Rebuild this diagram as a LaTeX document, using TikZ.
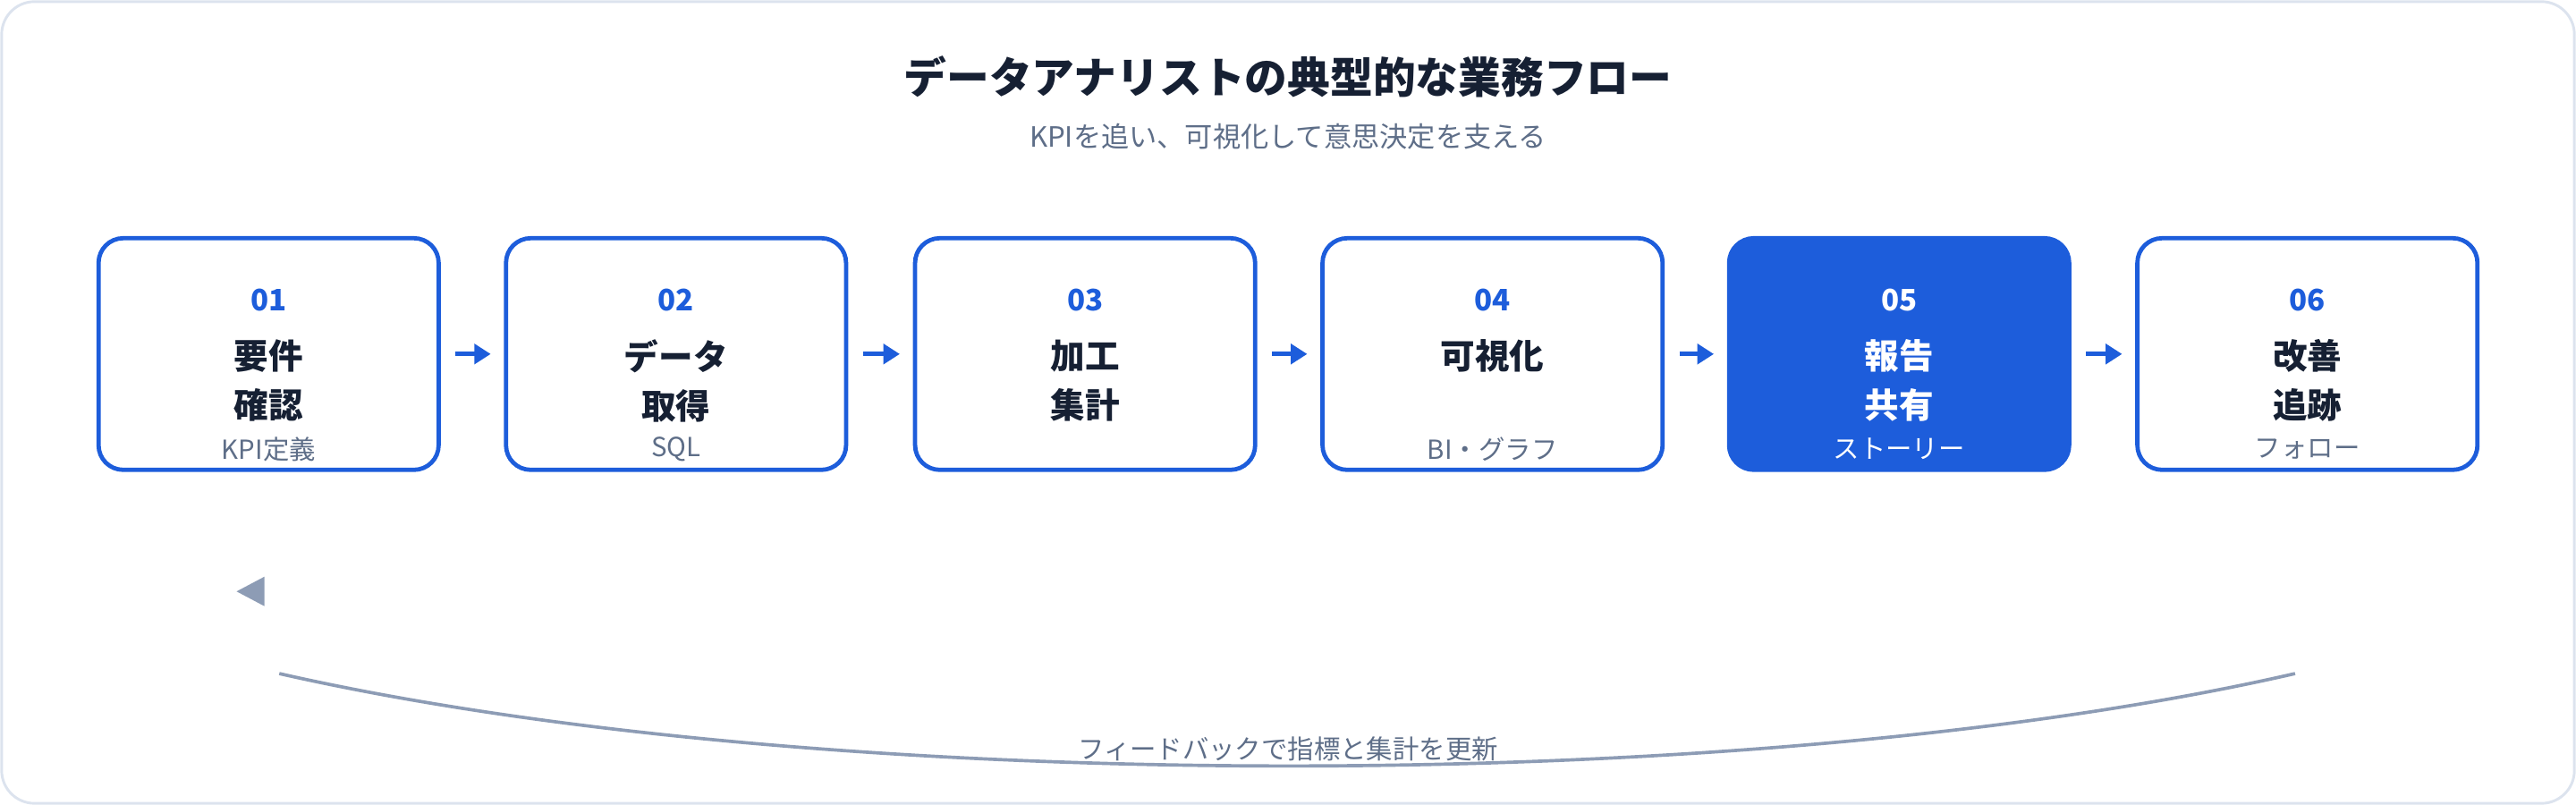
\documentclass[tikz,border=0pt]{standalone}
\usepackage{fontspec}
\setmainfont{Noto Sans CJK JP}
\usetikzlibrary{arrows.meta,positioning}
\definecolor{flowblue}{HTML}{1D5DDB}
\definecolor{inkdark}{HTML}{162033}
\definecolor{inkgray}{HTML}{5E6E88}
\definecolor{loopgray}{HTML}{8D9CB5}
\definecolor{frame}{HTML}{DCE3EE}
\tikzset{
  stepbox/.style  = {draw=flowblue, line width=1.3pt, rounded corners=7.5pt, fill=white,
                     minimum width=103.5pt, minimum height=70.5pt, inner sep=0pt},
  hotbox/.style   = {stepbox, fill=flowblue},
  num/.style      = {font=\bfseries\fontsize{9}{10}\selectfont, text=flowblue},
  ttl/.style      = {font=\bfseries\fontsize{10.5}{15}\selectfont, text=inkdark, align=center},
  sub/.style      = {font=\fontsize{8}{9}\selectfont, text=inkgray},
  next/.style     = {-{Triangle[length=5pt,width=6pt]}, draw=flowblue, line width=1.4pt,
                     shorten <=4.5pt, shorten >=4pt}
}
\begin{document}
\begin{tikzpicture}[x=0.5pt,y=-0.5pt]
  \useasboundingbox (0,0) rectangle (1568,490);
  \draw[frame, fill=white, line width=0.8pt, rounded corners=10pt] (1,1) rectangle (1567,489);
  % title
  \node[font=\bfseries\fontsize{13}{15}\selectfont, text=inkdark] (title) at (784,47) {データアナリストの典型的な業務フロー};
  \node[font=\fontsize{8.5}{10}\selectfont, text=inkgray] (subtitle) at (784,83) {KPIを追い、可視化して意思決定を支える};
  % steps
  \node[stepbox] (s1) at (163.5,215.5) {};
  \node[stepbox] (s2) at (411.5,215.5) {};
  \node[stepbox] (s3) at (660.5,215.5) {};
  \node[stepbox] (s4) at (908.5,215.5) {};
  \node[hotbox]  (s5) at (1156,215.5) {};
  \node[stepbox] (s6) at (1404.5,215.5) {};
  \foreach \i/\n/\t/\s in {1/01/要件\\確認/KPI定義, 2/02/データ\\取得/SQL, 3/03/加工\\集計/,
                           4/04/可視化/BI・グラフ, 6/06/改善\\追跡/フォロー} {
    \node[num] at ([yshift=-19.5pt]s\i.north) {\n};
    \node[ttl, anchor=north] at ([yshift=-28pt]s\i.north) {\t};
    \node[sub] at ([yshift=7pt]s\i.south) {\s};
  }
  \node[num, text=white] at ([yshift=-19.5pt]s5.north) {05};
  \node[ttl, text=white, anchor=north] at ([yshift=-28pt]s5.north) {報告\\共有};
  \node[sub, text=white] at ([yshift=7pt]s5.south) {ストーリー};
  % arrows
  \foreach \a/\b in {1/2,2/3,3/4,4/5,5/6}
    \draw[next] (s\a) -- (s\b);
  % feedback loop
  \coordinate (loopstart) at (170,410);
  \coordinate (loopend) at (1397,410);
  \draw[loopgray, line width=1pt] (loopstart) .. controls (500,485) and (1070,485) .. (loopend);
  \fill[loopgray] (144,360) -- (161,351) -- (161,369) -- cycle;
  \node[font=\fontsize{8}{9}\selectfont, text=inkgray] (fb) at (784,456) {フィードバックで指標と集計を更新};
\end{tikzpicture}
\end{document}
